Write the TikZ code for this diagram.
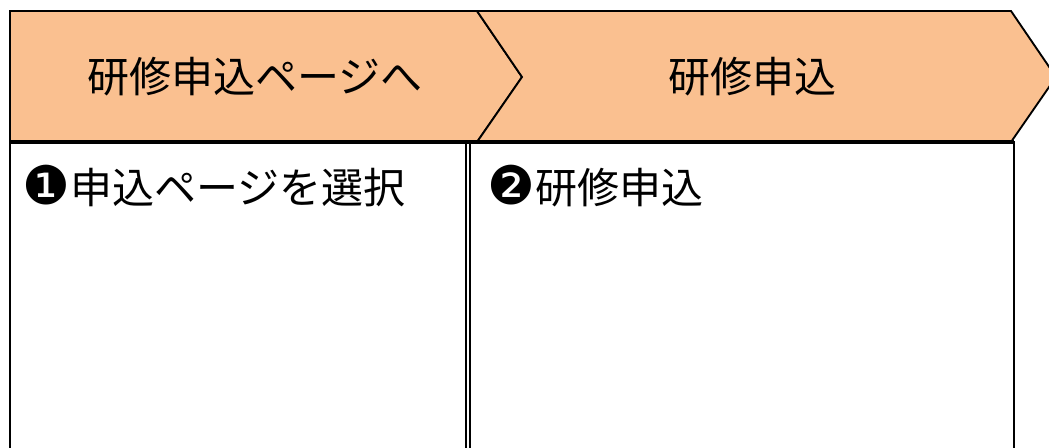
\documentclass[tikz,border=0pt]{standalone}
\usepackage{fontspec}
\setmainfont{Noto Sans CJK JP}
\newfontfamily\symfont{DejaVu Sans}
\definecolor{bandfill}{HTML}{FAC090}
\newcommand{\circnum}[1]{{\symfont\fontsize{40pt}{40pt}\selectfont\raisebox{-0.02em}{#1}}}
\begin{document}
\begin{tikzpicture}[x=0.75pt,y=-0.75pt,
  band/.style={draw=black,fill=bandfill,line width=1.4pt,line join=miter},
  cell/.style={draw=black,fill=white,line width=1.5pt},
  head/.style={font=\fontsize{31.5pt}{34pt}\selectfont,inner sep=0pt},
  body/.style={font=\fontsize{31.5pt}{34pt}\selectfont,inner sep=0pt,anchor=west}]
\useasboundingbox (0,0) rectangle (1049,448);
\clip (0,0) rectangle (1049,448);
% lower cells
\draw[cell] (10,142) rectangle (466,460);
\draw[cell] (470,142) rectangle (1014,460);
% chevrons
\draw[band] (10,11) -- (477,11) -- (522,77) -- (477,142) -- (10,142) -- cycle;
\draw[band] (477,11) -- (1011,11) -- (1056,77) -- (1011,142) -- (477,142) -- (522,77) -- cycle;
\draw[line width=2.6pt] (10,142) -- (1014,142);
% texts
\node[head] (h1) at (255,77) {研修申込ページへ};
\node[head] (h2) at (752,77) {研修申込};
\node[body] (b1) at (22,186) {\circnum{❶}申込ページを選択};
\node[body] (b2) at (487,186) {\circnum{❷}研修申込};
\end{tikzpicture}
\end{document}
